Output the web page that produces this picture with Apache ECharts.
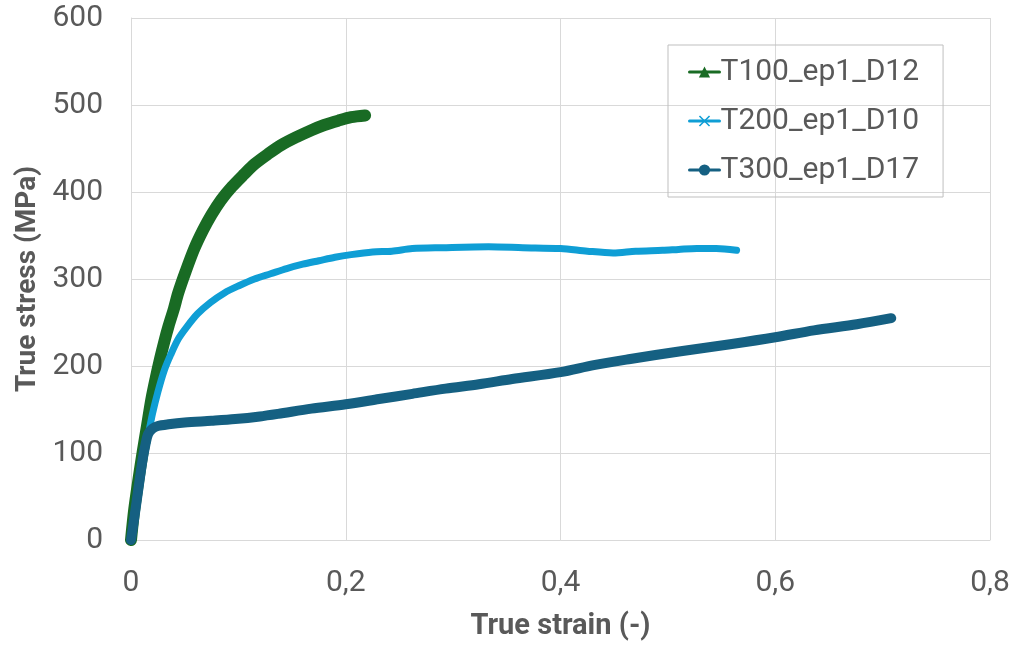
<!DOCTYPE html>
<html>
<head>
<meta charset="utf-8">
<script src="https://cdn.jsdelivr.net/npm/echarts@6/dist/echarts.min.js"></script>
<style>
  html, body { margin: 0; padding: 0; background: #fff; }
  #main { width: 1013px; height: 646px; }
</style>
</head>
<body>
<div id="main"></div>
<script>
// series names
var names = ['T100_ep1_D12', 'T200_ep1_D10', 'T300_ep1_D17'];

// T100: [true strain, true stress (MPa)]
var t100 = [
    [0, 0], [0.003, 35], [0.007, 70], [0.011, 102], [0.015, 132], [0.019, 162],
    [0.023, 186], [0.027, 208], [0.031, 228], [0.035, 246], [0.040, 266],
    [0.044, 284], [0.051, 309], [0.059, 335], [0.067, 356], [0.075, 374],
    [0.084, 391], [0.094, 406], [0.105, 420], [0.115, 432], [0.128, 444],
    [0.140, 454], [0.154, 463], [0.168, 471], [0.180, 477], [0.193, 482],
    [0.205, 486], [0.218, 488]
];

// T200
var t200 = [
    [0, 0], [0.004, 30], [0.008, 62], [0.012, 95], [0.016, 120], [0.020, 145],
    [0.025, 170], [0.031, 195], [0.037, 213], [0.044, 231], [0.052, 245],
    [0.062, 260], [0.074, 273], [0.087, 284], [0.100, 292], [0.115, 300],
    [0.130, 306], [0.145, 312], [0.160, 317], [0.175, 321], [0.190, 325],
    [0.205, 328], [0.225, 331], [0.243, 332], [0.262, 335], [0.290, 336],
    [0.333, 337], [0.365, 336], [0.400, 335], [0.425, 332], [0.449, 330],
    [0.470, 332], [0.495, 333], [0.510, 334], [0.527, 335], [0.545, 335],
    [0.564, 333]
];

// T300
var t300 = [
    [0, 0], [0.003, 25], [0.007, 60], [0.0105, 90], [0.0135, 110], [0.016, 122],
    [0.020, 128], [0.025, 131], [0.035, 133], [0.050, 135], [0.075, 137],
    [0.097, 139], [0.120, 142], [0.137, 145], [0.168, 151], [0.200, 156],
    [0.231, 162], [0.262, 168], [0.293, 174], [0.324, 179], [0.355, 185],
    [0.400, 193], [0.431, 201], [0.465, 208], [0.512, 217], [0.558, 225],
    [0.600, 233], [0.636, 241], [0.676, 248], [0.708, 255]
];

var colors = ['#196B24', '#0F9ED5', '#156082'];
var crossPath = 'path://M0,1L1,0L5,4L9,0L10,1L6,5L10,9L9,10L5,6L1,10L0,9L4,5Z';

var chart = echarts.init(document.getElementById('main'));

var labelColor = '#595959';
var gridColor = '#d9d9d9';

function makeSeries(i, data, symbol, width) {
    return {
        name: names[i],
        type: 'line',
        data: data,
        symbol: symbol,
        symbolSize: 12,
        showSymbol: false,
        smooth: 0.3,
        color: colors[i],
        lineStyle: { width: width, color: colors[i], cap: 'round', join: 'round' },
        emphasis: { disabled: true }
    };
}

var option = {
    animation: false,
    textStyle: { fontFamily: 'Roboto' },
    grid: { left: 131, right: 23, top: 18, bottom: 106 },
    legend: {
        orient: 'vertical',
        left: 668,
        top: 45,
        padding: [12, 24, 12, 20],
        itemGap: 19,
        itemWidth: 30,
        itemHeight: 14,
        borderColor: '#bfbfbf',
        borderWidth: 1,
        lineStyle: { width: 3 },
        textStyle: { color: labelColor, fontSize: 30, fontFamily: 'Roboto', padding: [0, 0, 0, -4] },
        data: names
    },
    xAxis: {
        type: 'value',
        min: 0,
        max: 0.8,
        interval: 0.2,
        name: 'True strain (-)',
        nameLocation: 'middle',
        nameGap: 72,
        nameTextStyle: { color: labelColor, fontSize: 29, fontWeight: 'bold', fontFamily: 'Roboto' },
        axisLine: { show: true, lineStyle: { color: gridColor } },
        axisTick: { show: false },
        axisLabel: {
            color: labelColor,
            fontSize: 30,
            margin: 28,
            formatter: function (v) { return String(v).replace('.', ','); }
        },
        splitLine: { show: true, lineStyle: { color: gridColor } }
    },
    yAxis: {
        type: 'value',
        min: 0,
        max: 600,
        interval: 100,
        name: 'True stress (MPa)',
        nameLocation: 'middle',
        nameGap: 89,
        nameTextStyle: { color: labelColor, fontSize: 28, fontWeight: 'bold', fontFamily: 'Roboto' },
        axisLine: { show: true, lineStyle: { color: gridColor } },
        axisTick: { show: false },
        axisLabel: { color: labelColor, fontSize: 30, margin: 28 },
        splitLine: { show: true, lineStyle: { color: gridColor } }
    },
    series: [
        makeSeries(0, t100, 'triangle', 12),
        makeSeries(1, t200, crossPath, 7),
        makeSeries(2, t300, 'circle', 10)
    ]
};

chart.setOption(option);
</script>
</body>
</html>
